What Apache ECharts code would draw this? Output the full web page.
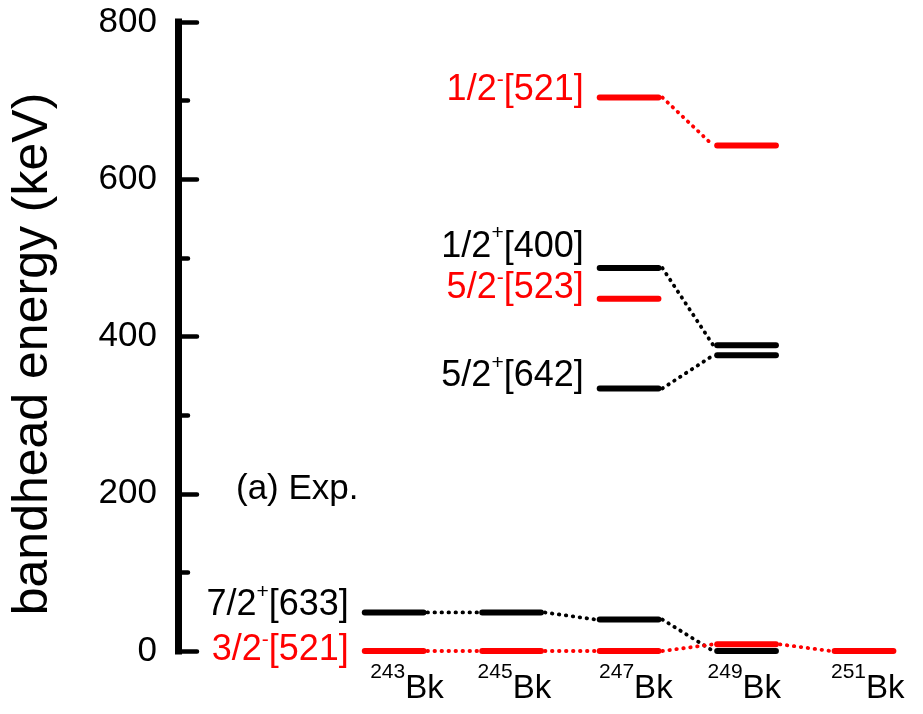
<!DOCTYPE html>
<html lang="en">
<head>
<meta charset="UTF-8">
<title>Bk bandhead energies</title>
<script src="https://cdn.jsdelivr.net/npm/echarts@6/dist/echarts.min.js"></script>
<style>
    html, body { margin: 0; padding: 0; background: #fff; }
    #chart { width: 923px; height: 714px; }
</style>
</head>
<body>
<div id="chart"></div>
<script>
// isotopes on the x axis
var isotopes = ['243', '245', '247', '249', '251'];
var yTicks = [0, 200, 400, 600, 800];

// Nilsson bands: K, parity, [N nz Lambda]
var bandK = ['7/2', '3/2', '5/2', '5/2', '1/2', '1/2'];
var bandParity = ['+', '-', '+', '-', '+', '-'];
var bandNilsson = ['[633]', '[521]', '[642]', '[523]', '[400]', '[521]'];

// bandhead energies in keV per isotope (null = not seen)
var e633 = [49, 49, 40, 0, null];
var e521a = [0, 0, 0, 8.5, 0];
var e642 = [null, null, 334, 376, null];
var e523 = [null, null, 448, null, null];
var e400 = [null, null, 487, 389, null];
var e521b = [null, null, 704, 643, null];

// styling
var FONT = 'Liberation Sans, Arial, sans-serif';
var bandColor = ['#000', '#ff0000', '#000', '#ff0000', '#000', '#ff0000'];
var labelDy = [-7, -1, -12, -11, -21, -7];
var isoDx = [-24, -34, -30, -39, -33];
var HALF = 0.25;   // half width of a level, in x units
var GAP = 16;      // px between label and level

var energies = [e633, e521a, e642, e523, e400, e521b];
var levels = [], links = [], labels = [];
energies.forEach(function (arr, b) {
    var first = -1;
    arr.forEach(function (v, i) {
        if (v === null) return;
        if (first < 0) first = i;
        levels.push([i, v, b]);
        if (i + 1 < arr.length && arr[i + 1] !== null) {
            links.push([i, v, i + 1, arr[i + 1], b]);
        }
    });
    labels.push([first, arr[first], b]);
});

var chart = echarts.init(document.getElementById('chart'));

var option = {
    animation: false,
    grid: { left: 178, right: 12, top: 22, bottom: 63 },
    xAxis: { type: 'value', min: -1.84, max: 4.4, show: false },
    yAxis: {
        type: 'value',
        min: yTicks[0],
        max: yTicks[yTicks.length - 1],
        interval: yTicks[1] - yTicks[0],
        axisLine: { show: true, onZero: false, lineStyle: { color: '#000', width: 7, cap: 'square' } },
        axisTick: { show: true, inside: true, length: 19, lineStyle: { color: '#000', width: 4.5, cap: 'round' } },
        minorTick: { show: true, splitNumber: 2, length: 10, lineStyle: { color: '#000', width: 4.5, cap: 'round' } },
        splitLine: { show: false },
        axisLabel: { color: '#000', fontSize: 35, fontFamily: FONT, margin: 21 }
    },
    graphic: [
        {
            type: 'text', x: 33, y: 354, rotation: Math.PI / 2,
            style: { text: 'bandhead energy (keV)', fill: '#000', fontSize: 50, fontFamily: FONT,
                     align: 'center', verticalAlign: 'middle' }
        },
        {
            type: 'text', x: 236, y: 489,
            style: { text: '(a) Exp.', fill: '#000', fontSize: 35, fontFamily: FONT,
                     align: 'left', verticalAlign: 'middle' }
        }
    ],
    series: [
        {   // dotted links between the same band in neighbouring isotopes
            type: 'custom',
            data: links,
            z: 2,
            renderItem: function (params, api) {
                var b = api.value(4);
                var p1 = api.coord([api.value(0) + HALF, api.value(1)]);
                var p2 = api.coord([api.value(2) - HALF, api.value(3)]);
                return {
                    type: 'line',
                    shape: { x1: p1[0] + 4, y1: p1[1], x2: p2[0] - 4, y2: p2[1] },
                    style: { stroke: bandColor[b], lineWidth: 3.8, lineCap: 'round', lineDash: [0.5, 6.5] }
                };
            }
        },
        {   // level bars
            type: 'custom',
            data: levels,
            z: 3,
            renderItem: function (params, api) {
                var b = api.value(2);
                var p1 = api.coord([api.value(0) - HALF, api.value(1)]);
                var p2 = api.coord([api.value(0) + HALF, api.value(1)]);
                return {
                    type: 'line',
                    shape: { x1: p1[0], y1: p1[1], x2: p2[0], y2: p2[1] },
                    style: { stroke: bandColor[b], lineWidth: 6, lineCap: 'round' }
                };
            }
        },
        {   // band labels at first occurrence
            type: 'custom',
            data: labels,
            z: 4,
            renderItem: function (params, api) {
                var b = api.value(2);
                var p = api.coord([api.value(0) - HALF, api.value(1)]);
                var tag = bandParity[b] === '+' ? 'p' : 'm';
                return {
                    type: 'text',
                    x: p[0] - GAP,
                    y: p[1] + labelDy[b],
                    style: {
                        text: bandK[b] + '{' + tag + '|' + bandParity[b] + '}' + bandNilsson[b],
                        fill: bandColor[b], fontSize: 36, fontFamily: FONT, lineHeight: 36,
                        align: 'right', verticalAlign: 'middle',
                        rich: {
                            p: { fill: bandColor[b], fontSize: 21, fontFamily: FONT, height: 9, lineHeight: 9, verticalAlign: 'top' },
                            m: { fill: bandColor[b], fontSize: 21, fontFamily: FONT, height: 16, lineHeight: 16, verticalAlign: 'top' }
                        }
                    }
                };
            }
        },
        {   // isotope names under the levels
            type: 'custom',
            data: isotopes.map(function (s, i) { return [i, 0]; }),
            z: 4,
            renderItem: function (params, api) {
                var i = api.value(0);
                var p = api.coord([i, 0]);
                return {
                    type: 'text',
                    x: p[0] + isoDx[i],
                    y: p[1] + 18,
                    style: {
                        text: '{s|' + isotopes[i] + '}{b|Bk}',
                        fill: '#000', align: 'left', verticalAlign: 'top',
                        rich: {
                            s: { fill: '#000', fontSize: 21, fontFamily: FONT, height: 7, lineHeight: 7, verticalAlign: 'top' },
                            b: { fill: '#000', fontSize: 33, fontFamily: FONT, height: 40, lineHeight: 40 }
                        }
                    }
                };
            }
        }
    ]
};

chart.setOption(option);
</script>
</body>
</html>
